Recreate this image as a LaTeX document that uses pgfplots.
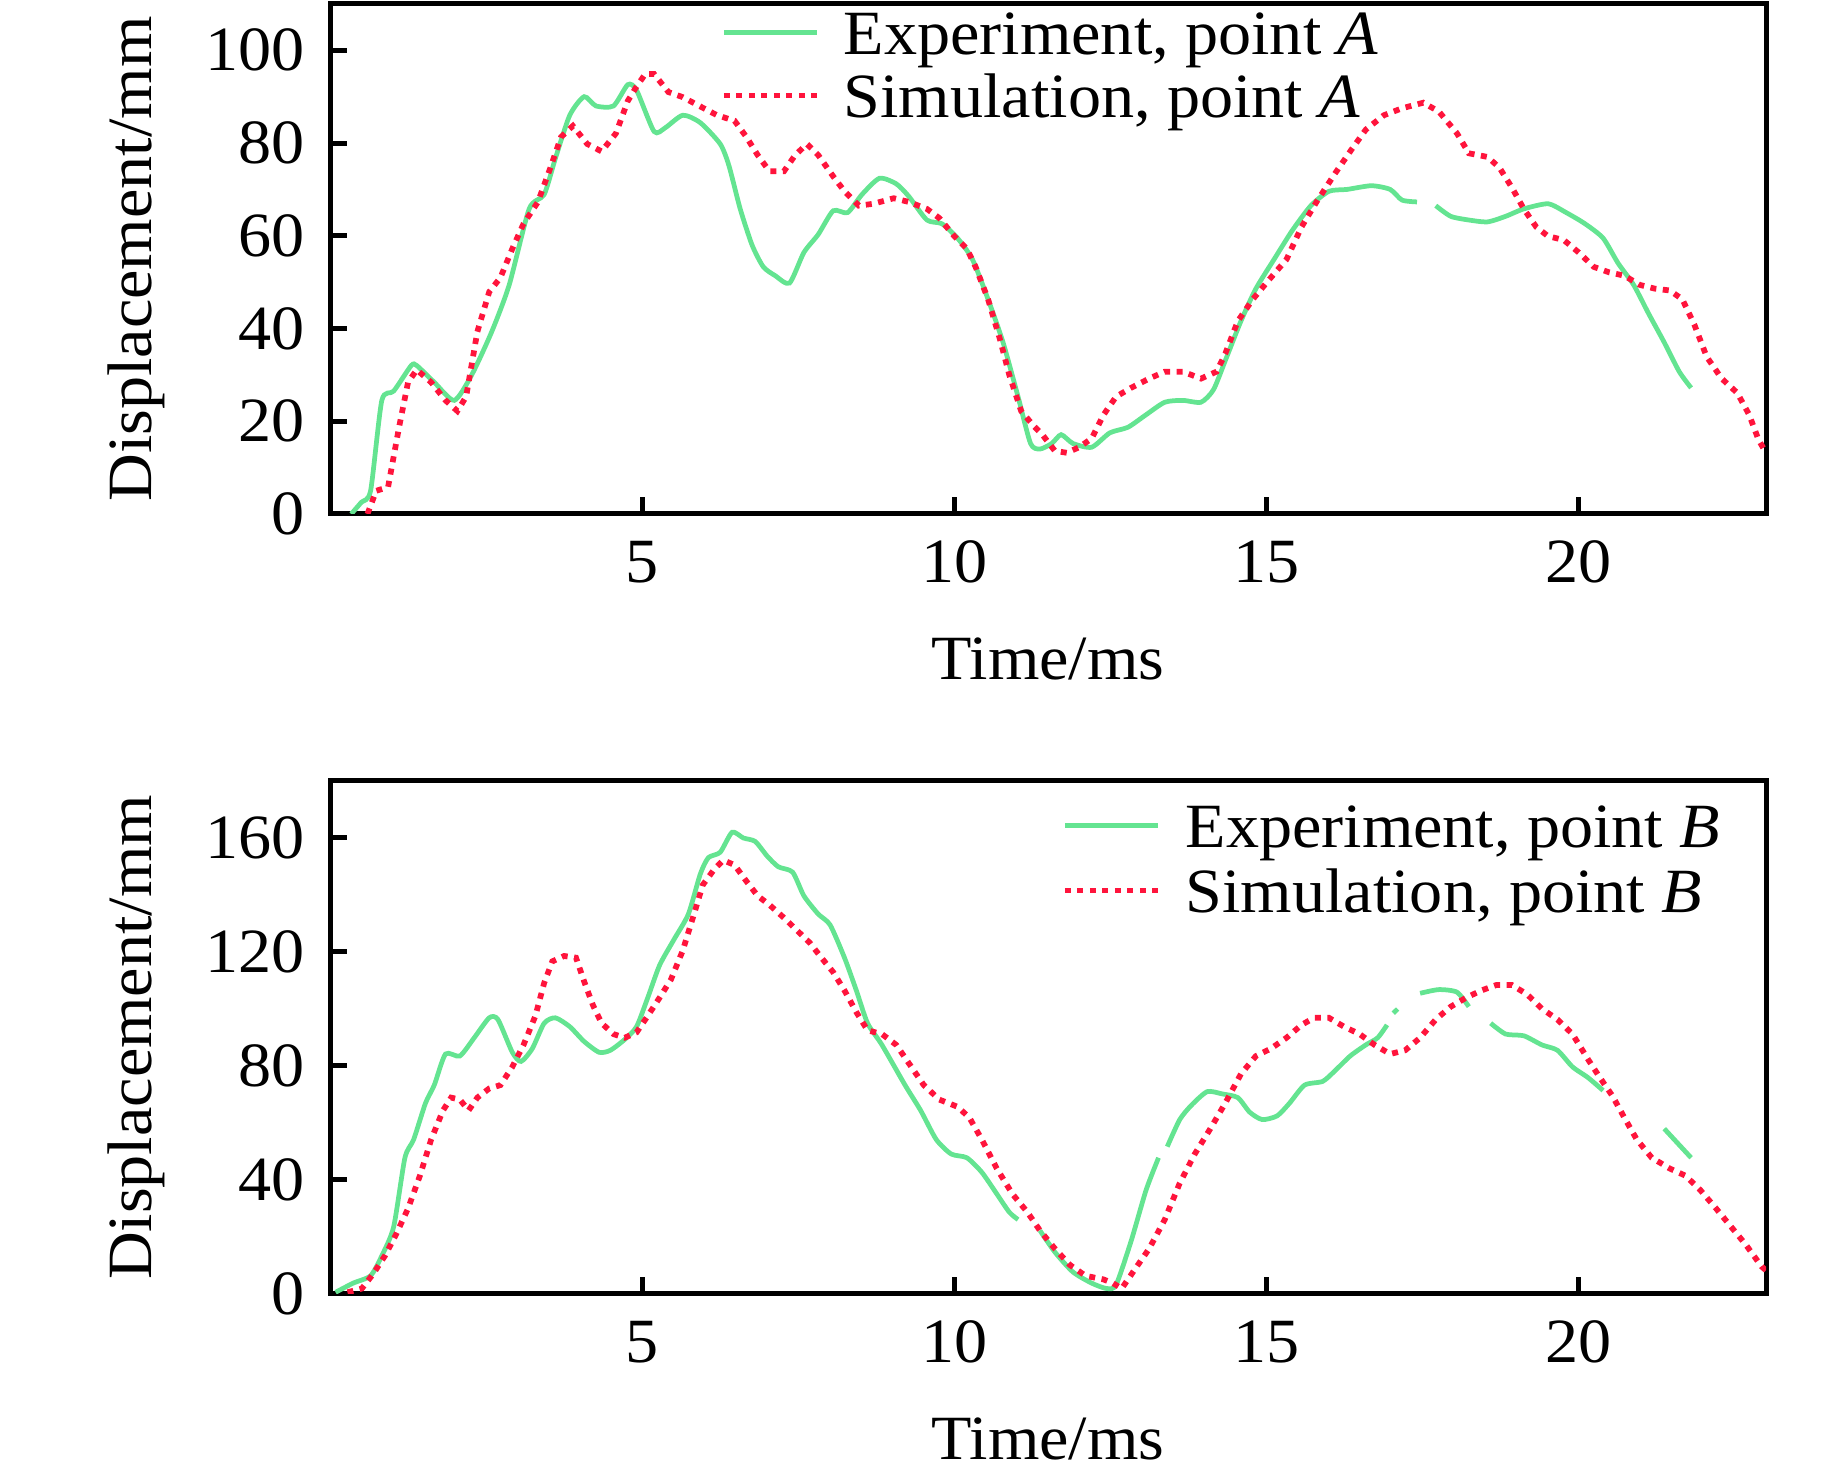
\documentclass[border=0pt]{standalone}
\usepackage{fontspec}
\setmainfont{Liberation Serif}[FakeStretch=1.05]
\usepackage{pgfplots}
\pgfplotsset{compat=1.18}
\definecolor{expgreen}{RGB}{100,228,145}
\definecolor{simred}{RGB}{255,20,60}
\pgfplotsset{
  mystyle/.style={
    scale only axis, width=287.2pt,
    xmin=0, xmax=23,
    xtick={5,10,15,20},
    tick align=inside, tick pos=left,
    major tick length=3.3pt,
    every tick/.style={black, line width=1pt},
    axis line style={line width=1pt},
    /pgf/number format/assume math mode=true,
    xticklabel style={inner sep=0pt, yshift=-5.2pt},
    yticklabel style={inner sep=0pt, xshift=-4.8pt},
    every axis x label/.style={at={(axis description cs:0.5,0)}, anchor=base, yshift=-33.2pt, inner sep=0pt},
    every axis y label/.style={at={(axis description cs:0,0.5)}, xshift=-35.6pt, rotate=90, anchor=base, inner sep=0pt},
    xlabel={Time/ms}, ylabel={Displacement/mm},
    unbounded coords=jump,
    legend cell align=left,
    legend image code/.code={\draw[##1] (0pt,4.5pt) -- (18.6pt,4.5pt);},
    expstyle/.style={color=expgreen, line width=0.95pt, no marks, smooth, tension=0.4},
    simstyle/.style={color=simred, line width=1.15pt, dash pattern=on 1.2pt off 1.3pt, no marks},
  }
}
\begin{document}%
\fontsize{12.6pt}{15pt}\selectfont%
\begin{tikzpicture}
\begin{axis}[mystyle,
  at={(66pt,190.4pt)}, anchor=south west, height=102pt,
  ymin=0, ymax=110, ytick={0,20,40,60,80,100},
  legend style={draw=none, fill=none, at={(axis description cs:0.2723,1)}, anchor=north west, yshift=-1.2pt,
    inner sep=0pt, outer sep=0pt, column sep=4.8pt, row sep=0pt,
    nodes={inner sep=0pt, text height=9pt, text depth=3.6pt, anchor=base west}},
]
\addplot[expstyle] coordinates {
(0.34,0) (0.5,2.5) (0.65,5) (0.83,24.5) (1.02,26.5) (1.3,32) (1.39,32) (1.67,28.4) (1.99,24.5) (2.27,30) (2.59,39.3) (2.87,49.4) (3.19,65.8) (3.43,68.9) (3.61,76.7) (3.84,86) (4.07,90) (4.26,88) (4.54,88) (4.77,92.6) (4.91,91.4) (5.19,82.5) (5.37,83.3) (5.65,86) (5.93,84.4) (6.25,79.8) (6.39,75.1) (6.57,65.8) (6.76,58) (6.94,53.3) (7.13,51.4) (7.36,49.8) (7.59,56.4) (7.82,60.3) (8.06,65.4) (8.29,65) (8.52,68.9) (8.8,72.4) (9.07,71.2) (9.27,68.5) (9.56,63.4) (9.8,62.6) (10.05,59.5) (10.29,54.9) (10.54,46.3) (10.78,37) (11.02,25.3) (11.22,15.2) (11.37,14) (11.56,15.2) (11.71,17.1) (11.9,15.2) (12.2,14.4) (12.49,17.5) (12.78,18.7) (13.07,21.4) (13.37,24.1) (13.66,24.5) (13.95,24.1) (14.15,26.8) (14.34,33.1) (14.59,41.6) (14.83,48.6) (15.12,54.9) (15.41,61.1) (15.71,66.5) (16,69.6) (16.29,70) (16.68,70.8) (16.98,70) (17.17,67.7) (17.41,67.3) (17.55,nan) (17.71,66.5) (17.95,64.2) (18.24,63.4) (18.54,63) (18.83,64.2) (19.12,65.8) (19.51,66.9) (19.8,65) (20.1,62.6) (20.39,59.5) (20.63,54.1) (20.88,49.4) (21.12,43.2) (21.37,37) (21.61,30.7) (21.8,27.2)
};
\addlegendentry{Experiment, point \textit{A}}
\addplot[simstyle] coordinates {
(0.6,0) (0.74,5) (0.93,5.8) (1.11,19) (1.25,28.4) (1.39,31.1) (1.62,28.4) (1.85,24.5) (2.04,22.2) (2.18,25.3) (2.36,39.3) (2.55,47.9) (2.73,51) (2.92,57.2) (3.1,62.6) (3.33,67.3) (3.52,74.3) (3.7,81.3) (3.89,83.7) (4.12,79.8) (4.35,78.2) (4.58,82.1) (4.77,89.1) (4.91,92.2) (5.05,94.9) (5.19,94.9) (5.42,91) (5.65,89.9) (5.93,87.9) (6.2,86) (6.48,84.8) (6.67,81.3) (6.85,77.4) (7.04,73.9) (7.27,73.9) (7.45,77.4) (7.64,79.8) (7.82,77.4) (8.06,72.8) (8.24,69.6) (8.47,66.5) (8.7,66.9) (9.03,68.1) (9.27,67.3) (9.56,65.8) (9.76,63.8) (10,59.9) (10.2,57.2) (10.34,53.3) (10.54,46.3) (10.73,37.7) (10.88,30) (11.07,22.2) (11.27,19) (11.41,17.1) (11.61,13.6) (11.8,13.2) (12,14.4) (12.2,16.3) (12.39,21.4) (12.59,25.3) (12.83,27.2) (13.12,29.2) (13.37,30.7) (13.66,30.7) (13.95,29.2) (14.2,30.7) (14.34,34.6) (14.54,41.6) (14.78,46.3) (15.02,50.2) (15.32,54.9) (15.56,61.9) (15.8,67.3) (16.1,73.5) (16.34,78.2) (16.59,82.9) (16.88,86) (17.17,87.5) (17.51,88.7) (17.76,86.8) (18.05,82.1) (18.24,77.8) (18.54,77) (18.73,74.7) (18.93,70.4) (19.12,65.8) (19.32,61.9) (19.51,59.9) (19.76,59.1) (20,56.4) (20.24,53.3) (20.49,52.1) (20.73,51.4) (20.98,49.4) (21.22,48.6) (21.46,48.2) (21.66,46.3) (21.85,40.9) (22.05,33.9) (22.29,29.2) (22.54,26.1) (22.73,21.4) (22.88,16) (23,13.2)
};
\addlegendentry{Simulation, point \textit{A}}
\end{axis}
\begin{axis}[mystyle,
  at={(66pt,34.4pt)}, anchor=south west, height=102.6pt,
  ymin=0, ymax=180, ytick={0,40,80,120,160},
  legend style={draw=none, fill=none, at={(axis description cs:0.5097,1)}, anchor=north west, yshift=-4.4pt,
    inner sep=0pt, outer sep=0pt, column sep=5pt, row sep=0pt,
    nodes={inner sep=0pt, text height=9pt, text depth=4pt, anchor=base west}},
]
\addplot[expstyle] coordinates {
(0.09,0.6) (0.37,3.8) (0.65,6.4) (0.83,13.4) (1.02,23.6) (1.2,47.8) (1.34,54.2) (1.53,67) (1.67,73.3) (1.85,84.2) (2.08,83.5) (2.31,89.9) (2.55,96.9) (2.69,96.3) (2.92,84.8) (3.06,81.6) (3.24,86.1) (3.43,95) (3.61,96.9) (3.84,93.8) (4.07,88.6) (4.31,84.8) (4.49,85.5) (4.72,89.3) (4.91,93.8) (5.09,104) (5.28,115.4) (5.51,124.4) (5.74,133.3) (5.93,147.3) (6.06,153.1) (6.25,155) (6.44,162) (6.62,160) (6.81,158.8) (7,153.7) (7.18,149.9) (7.41,148) (7.59,139.7) (7.82,133.3) (8.01,129.5) (8.24,118) (8.43,106.5) (8.61,95) (8.84,87.4) (9.21,73.3) (9.46,64.4) (9.71,54.2) (9.95,49.1) (10.2,47.8) (10.44,42.7) (10.68,35.1) (10.88,28.7) (11.02,26.1) (11.2,nan) (11.37,22.3) (11.61,14.7) (11.9,7.7) (12.2,3.8) (12.44,1.9) (12.59,3.2) (12.83,18.5) (13.07,36.4) (13.27,47.8) (13.34,nan) (13.41,51.7) (13.61,61.2) (13.8,66.3) (14.05,71) (14.29,70.2) (14.54,68.9) (14.73,63.8) (14.93,61.2) (15.17,62.5) (15.37,67) (15.61,73.3) (15.9,74.6) (16.1,78.4) (16.34,83.5) (16.59,87.4) (16.78,89.9) (16.93,94.4) (16.98,nan) (17.03,98.5) (17.1,100) (17.25,nan) (17.46,105.5) (17.76,106.8) (18.05,105.9) (18.24,100.8) (18.4,nan) (18.59,95) (18.83,91.2) (19.12,90.6) (19.41,87.4) (19.66,85.5) (19.9,79.7) (20.15,75.9) (20.39,71.4) (20.9,nan) (21.37,58) (21.8,47.8)
};
\addlegendentry{Experiment, point \textit{B}}
\addplot[simstyle] coordinates {
(0.28,0.6) (0.51,1.9) (0.69,7) (0.88,13.4) (1.06,21) (1.25,30) (1.44,41.5) (1.62,54.2) (1.81,64.4) (1.94,68.9) (2.08,68.2) (2.22,64.4) (2.36,68.9) (2.55,72.1) (2.73,73.3) (2.92,79.7) (3.1,87.4) (3.29,97.6) (3.43,109.1) (3.56,116.7) (3.75,118.6) (3.94,118) (4.07,109.7) (4.21,101.4) (4.35,95) (4.54,91.2) (4.72,89.9) (4.91,91.8) (5.09,97.6) (5.28,104) (5.46,110.3) (5.65,120.5) (5.83,133.3) (5.97,143.5) (6.16,149.2) (6.3,152.2) (6.48,150.5) (6.67,144.8) (6.85,139.7) (7.04,136.5) (7.27,132) (7.45,128.2) (7.69,123.1) (7.87,118) (8.06,112.9) (8.24,106.5) (8.43,98.9) (8.61,92.5) (8.84,91.2) (9.07,87.4) (9.27,81) (9.51,73.3) (9.76,68.2) (10.05,65.7) (10.24,61.9) (10.44,54.2) (10.68,44) (10.93,35.1) (11.17,28.7) (11.37,22.3) (11.61,15.9) (11.85,10.2) (12.1,6.4) (12.39,5.1) (12.54,3.8) (12.68,1.9) (12.88,8.3) (13.12,15.9) (13.37,26.1) (13.61,38.9) (13.85,49.1) (14.1,58) (14.34,67) (14.59,77.2) (14.83,83.5) (15.07,86.1) (15.32,89.9) (15.56,94.4) (15.76,96.9) (16,96.9) (16.24,93.8) (16.49,91.2) (16.73,87.4) (16.98,84.2) (17.22,85.5) (17.46,89.9) (17.71,96.3) (17.95,100.8) (18.2,104) (18.44,106.5) (18.68,108.4) (18.93,108.4) (19.17,105.2) (19.41,100.1) (19.66,96.3) (19.9,91.2) (20.15,82.3) (20.34,75.9) (20.54,69.5) (20.73,61.9) (20.93,54.2) (21.17,47.8) (21.46,44) (21.71,41.5) (21.95,36.4) (22.2,30) (22.44,23.6) (22.68,17.2) (22.93,9.6) (23,8.3)
};
\addlegendentry{Simulation, point \textit{B}}
\end{axis}
\pgfresetboundingbox
\path[use as bounding box] (0,0) rectangle (368.6pt,293.2pt);
\end{tikzpicture}%
\end{document}
